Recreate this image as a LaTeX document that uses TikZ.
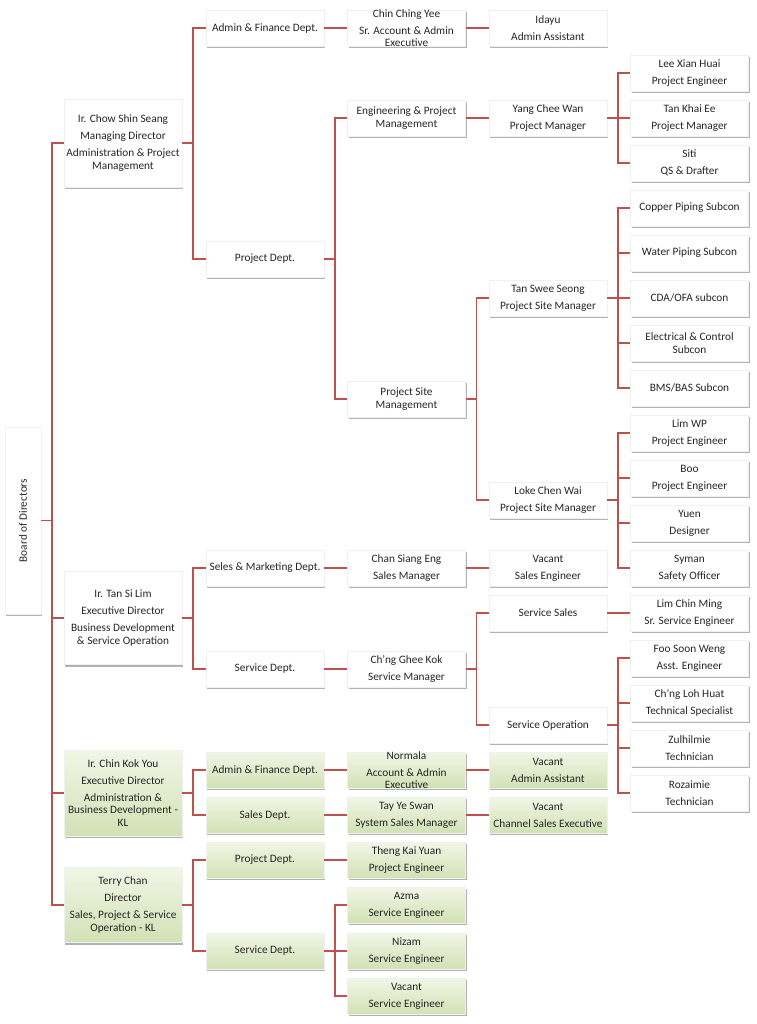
\documentclass[tikz,border=0pt]{standalone}
\usepackage{fontspec}
\setmainfont{Carlito}
\usetikzlibrary{shadows}
\definecolor{linec}{HTML}{C0504D}
\definecolor{txtc}{HTML}{262626}
\definecolor{gtop}{HTML}{F1F6E6}
\definecolor{gbot}{HTML}{D2E1B5}
\tikzset{
  box/.style={rectangle, minimum width=118pt, minimum height=36pt, inner sep=0pt,
    fill=white, draw=black!6, line width=0.3pt,
    drop shadow={shadow xshift=1pt, shadow yshift=-2pt, fill=black, opacity=0.3}},
  gbox/.style={box, top color=gtop, bottom color=gbot},
  txt/.style={align=center, font=\fontsize{11.3}{12.4}\selectfont, text=txtc, inner sep=0pt},
  link/.style={draw=linec, line width=1.6pt},
}
\newcommand\bx[5]{\node[#2] (#1) at (#3,#4) {}; \node[txt] at (#1) {#5};}
\newcommand\cn[2]{\draw[link] (#1.east) -- ++(11,0) |- (#2.west);}
\newcommand\pb{\\[4.6pt]}
\begin{document}
\begin{tikzpicture}[x=1pt,y=-1pt]
\useasboundingbox (0,0) rectangle (756,1024);
% column 1
\node[box, minimum width=36pt, minimum height=187pt] (board) at (23,520.5) {};
\node[txt, rotate=90] at (board) {Board of Directors};
% column 2
\bx{chow}{box, minimum height=88pt}{123}{143}{Ir. Chow Shin Seang\pb Managing Director\pb Administration \& Project\\Management}
\bx{tansi}{box, minimum height=93pt}{123}{618}{Ir. Tan Si Lim\pb Executive Director\pb Business Development\\\& Service Operation}
\bx{chin}{gbox, minimum height=86pt}{123}{793}{Ir. Chin Kok You\pb Executive Director\pb Administration \&\\Business Development -\\KL}
\bx{terry}{gbox, minimum height=75pt}{123}{905}{Terry Chan\pb Director\pb Sales, Project \& Service\\Operation - KL}
% column 3
\bx{af1}{box}{265}{28}{Admin \& Finance Dept.}
\bx{pd1}{box}{265}{259}{Project Dept.}
\bx{sm}{box}{265}{568}{Seles \& Marketing Dept.}
\bx{sd1}{box}{265}{669}{Service Dept.}
\bx{af2}{gbox}{265}{770}{Admin \& Finance Dept.}
\bx{sld}{gbox}{265}{815}{Sales Dept.}
\bx{pd2}{gbox}{265}{860}{Project Dept.}
\bx{sd2}{gbox}{265}{951}{Service Dept.}
% column 4
\bx{ccy}{box}{406.5}{28}{Chin Ching Yee\pb Sr. Account \& Admin\\Executive}
\bx{epm}{box}{406.5}{118}{Engineering \& Project\\Management}
\bx{psm}{box}{406.5}{399}{Project Site\\Management}
\bx{cse}{box}{406.5}{568}{Chan Siang Eng\pb Sales Manager}
\bx{cgk}{box}{406.5}{669}{Ch’ng Ghee Kok\pb Service Manager}
\bx{norm}{gbox}{406.5}{770}{Normala\pb Account \& Admin\\Executive}
\bx{tys}{gbox}{406.5}{815}{Tay Ye Swan\pb System Sales Manager}
\bx{tky}{gbox}{406.5}{860}{Theng Kai Yuan\pb Project Engineer}
\bx{azma}{gbox}{406.5}{905}{Azma\pb Service Engineer}
\bx{nizam}{gbox}{406.5}{951}{Nizam\pb Service Engineer}
\bx{vse}{gbox}{406.5}{996}{Vacant\pb Service Engineer}
% column 5
\bx{idayu}{box}{548}{28}{Idayu\pb Admin Assistant}
\bx{ycw}{box}{548}{118}{Yang Chee Wan\pb Project Manager}
\bx{tss}{box}{548}{298}{Tan Swee Seong\pb Project Site Manager}
\bx{lcw}{box}{548}{500}{Loke Chen Wai\pb Project Site Manager}
\bx{vsale}{box}{548}{568}{Vacant\pb Sales Engineer}
\bx{ss}{box}{548}{613}{Service Sales}
\bx{so}{box}{548}{725}{Service Operation}
\bx{vaa}{gbox}{548}{770}{Vacant\pb Admin Assistant}
\bx{vcse}{gbox}{548}{815}{Vacant\pb Channel Sales Executive}
% column 6
\bx{lxh}{box}{689.5}{73}{Lee Xian Huai\pb Project Engineer}
\bx{tke}{box}{689.5}{118}{Tan Khai Ee\pb Project Manager}
\bx{siti}{box}{689.5}{163}{Siti\pb QS \& Drafter}
\bx{cop}{box}{689.5}{208}{Copper Piping Subcon}
\bx{wat}{box}{689.5}{253}{Water Piping Subcon}
\bx{cda}{box}{689.5}{298}{CDA/OFA subcon}
\bx{elec}{box}{689.5}{343}{Electrical \& Control\\Subcon}
\bx{bms}{box}{689.5}{388}{BMS/BAS Subcon}
\bx{limwp}{box}{689.5}{433}{Lim WP\pb Project Engineer}
\bx{boo}{box}{689.5}{478}{Boo\pb Project Engineer}
\bx{yuen}{box}{689.5}{523}{Yuen\pb Designer}
\bx{syman}{box}{689.5}{568}{Syman\pb Safety Officer}
\bx{lcm}{box}{689.5}{613}{Lim Chin Ming\pb Sr. Service Engineer}
\bx{foo}{box}{689.5}{658}{Foo Soon Weng\pb Asst. Engineer}
\bx{clh}{box}{689.5}{703}{Ch’ng Loh Huat\pb Technical Specialist}
\bx{zul}{box}{689.5}{748}{Zulhilmie\pb Technician}
\bx{roz}{box}{689.5}{793}{Rozaimie\pb Technician}
% connectors
\cn{board}{chow}\cn{board}{tansi}\cn{board}{chin}\cn{board}{terry}
\cn{chow}{af1}\cn{chow}{pd1}
\cn{af1}{ccy}\cn{ccy}{idayu}
\cn{pd1}{epm}\cn{pd1}{psm}
\cn{epm}{ycw}
\cn{ycw}{lxh}\cn{ycw}{tke}\cn{ycw}{siti}
\cn{psm}{tss}\cn{psm}{lcw}
\cn{tss}{cop}\cn{tss}{wat}\cn{tss}{cda}\cn{tss}{elec}\cn{tss}{bms}
\cn{lcw}{limwp}\cn{lcw}{boo}\cn{lcw}{yuen}\cn{lcw}{syman}
\cn{tansi}{sm}\cn{tansi}{sd1}
\cn{sm}{cse}\cn{cse}{vsale}
\cn{sd1}{cgk}
\cn{cgk}{ss}\cn{cgk}{so}
\cn{ss}{lcm}
\cn{so}{foo}\cn{so}{clh}\cn{so}{zul}\cn{so}{roz}
\cn{chin}{af2}\cn{chin}{sld}
\cn{af2}{norm}\cn{norm}{vaa}
\cn{sld}{tys}\cn{tys}{vcse}
\cn{terry}{pd2}\cn{terry}{sd2}
\cn{pd2}{tky}
\cn{sd2}{azma}\cn{sd2}{nizam}\cn{sd2}{vse}
\end{tikzpicture}
\end{document}
